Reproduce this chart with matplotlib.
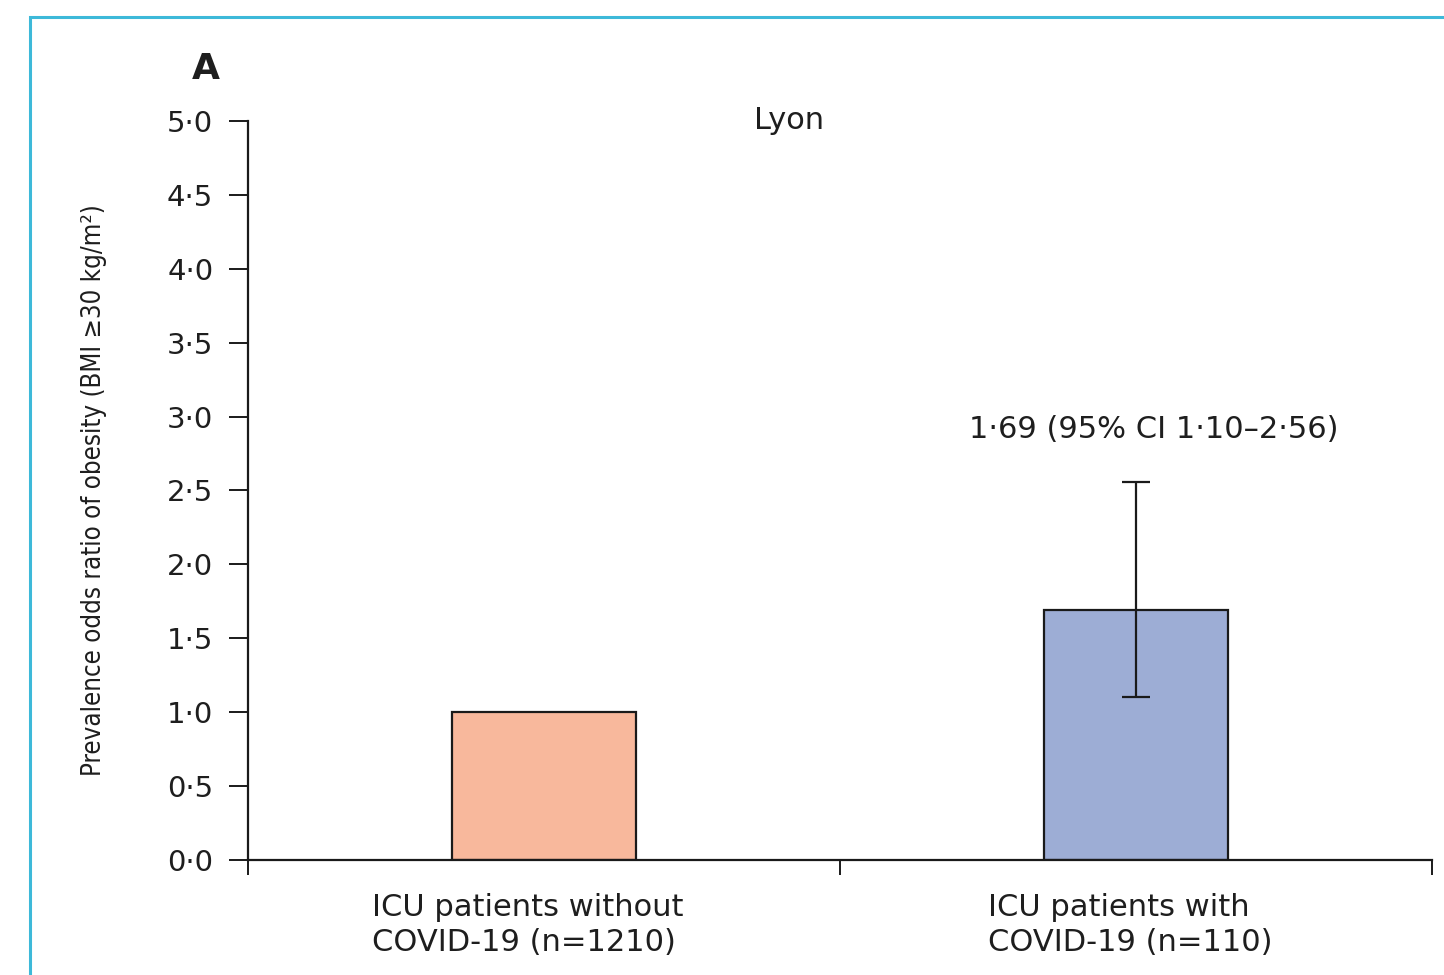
import matplotlib
matplotlib.use("Agg")
import matplotlib.pyplot as plt
from matplotlib.patches import Rectangle

# data
categories = ["ICU patients without\nCOVID-19 (n=1210)", "ICU patients with\nCOVID-19 (n=110)"]
odds_ratio = [1.0, 1.69]
ci_low = [None, 1.10]
ci_high = [None, 2.56]
bar_colors = ["#F8B89C", "#9DADD5"]
yticks = [0.0, 0.5, 1.0, 1.5, 2.0, 2.5, 3.0, 3.5, 4.0, 4.5, 5.0]

plt.rcParams['font.family'] = ['DejaVu Sans']
txt = "#1e1e1e"

fig = plt.figure(figsize=(14.44, 9.75), dpi=100)
ax = fig.add_axes([248 / 1444, 1 - 860 / 975, (1432 - 248) / 1444, (860 - 121) / 975])

# cyan frame round the panel
fig.patches.append(Rectangle((30 / 1444, -0.1), 1.2, 1 - 17 / 975 + 0.1,
                             transform=fig.transFigure, fill=False,
                             edgecolor="#3DB9D9", linewidth=2.2))

xpos = [0.5, 1.5]
ax.bar(xpos, odds_ratio, width=0.31, color=bar_colors, edgecolor="#1a1a1a", linewidth=1.6, zorder=2)

# error bar for the COVID group
ax.errorbar([xpos[1]], [odds_ratio[1]],
            yerr=[[odds_ratio[1] - ci_low[1]], [ci_high[1] - odds_ratio[1]]],
            fmt="none", ecolor="#1a1a1a", elinewidth=1.6, capsize=10, capthick=1.6, zorder=3)

ax.text(1.53, 2.91, "1·69 (95% CI 1·10–2·56)", ha="center", va="center", fontsize=22, color=txt)
ax.text(0.914, 5.0, "Lyon", ha="center", va="center", fontsize=22, color=txt)

ax.set_xlim(0, 2)
ax.set_ylim(0, 5)
ax.set_yticks(yticks)
ax.set_yticklabels([f"{v:.1f}".replace(".", "·") for v in yticks], fontsize=21, color=txt)
ax.set_xticks([0, 1, 2])
ax.set_xticklabels([])

label_x = [0.21, 1.25]
for i, lab in enumerate(categories):
    ax.text(label_x[i], -0.22, lab, ha="left", va="top", fontsize=22, color=txt, linespacing=1.3)

for s in ["top", "right"]:
    ax.spines[s].set_visible(False)
for s in ["left", "bottom"]:
    ax.spines[s].set_linewidth(1.6)
    ax.spines[s].set_color("#1a1a1a")
ax.tick_params(axis="y", length=14, width=1.4, pad=11, color="#1a1a1a")
ax.tick_params(axis="x", length=11, width=1.4, color="#1a1a1a")

ax.set_ylabel("Prevalence odds ratio of obesity (BMI ≥30 kg/m²)", fontsize=18.5,
              fontstretch="condensed", color=txt, labelpad=43)

fig.text(206 / 1444, 1 - 69 / 975, "A", ha="center", va="center", fontsize=26, fontweight="bold", color=txt)

fig.savefig("out.png", dpi=100)
